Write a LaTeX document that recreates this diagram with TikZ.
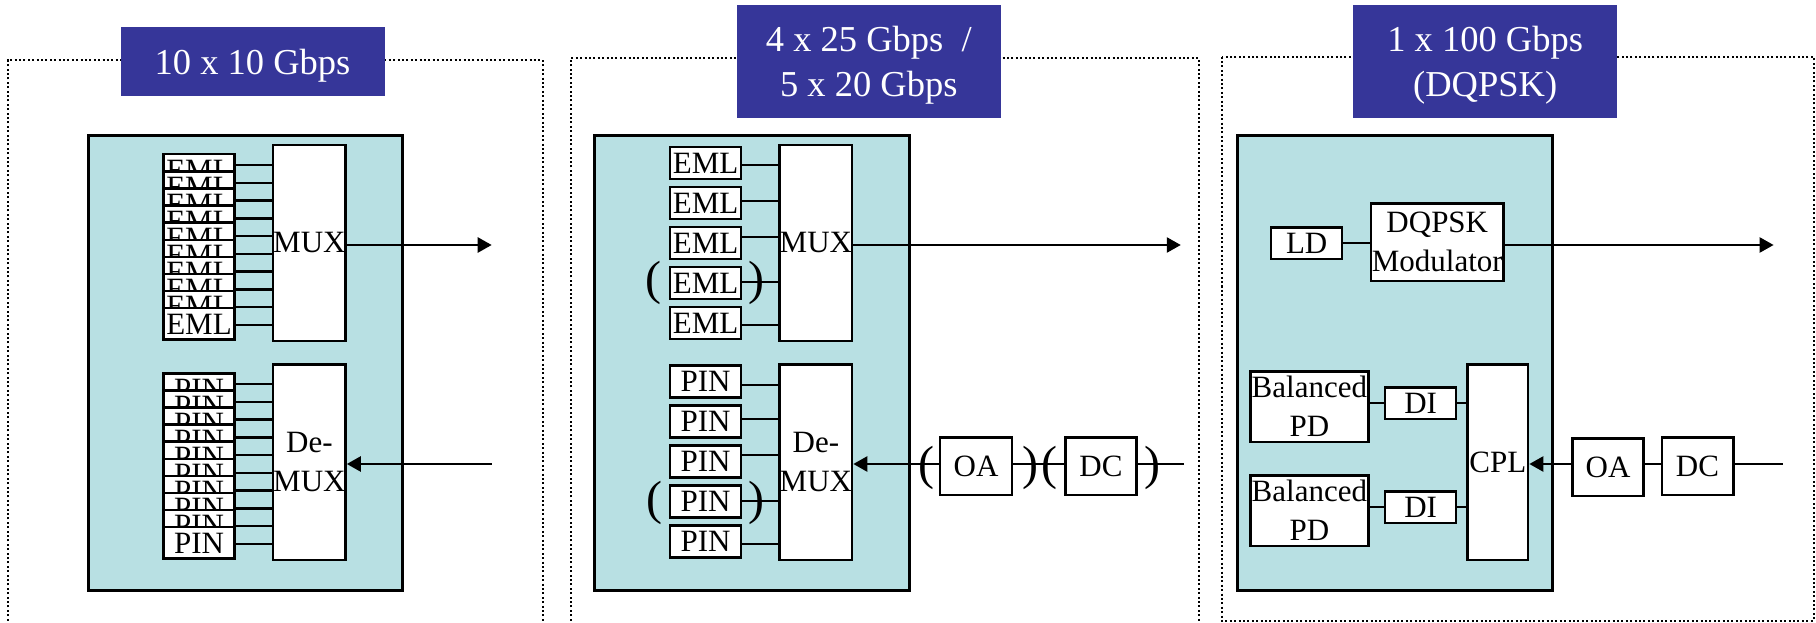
\documentclass[tikz,border=0pt]{standalone}
\usepackage{fontspec}
\setmainfont{Liberation Serif}
\usetikzlibrary{arrows.meta}
\definecolor{cardfill}{RGB}{184,224,227}
\definecolor{titleblue}{RGB}{54,54,153}
\begin{document}
\begin{tikzpicture}[x=1pt,y=-1pt,
  frame/.style={line width=2pt, dash pattern=on 2pt off 2.4pt},
  titlebox/.style={fill=titleblue, text=white, font=\fontsize{36.5}{45}\selectfont, align=center, inner sep=0pt, minimum width=264pt, text depth=0pt},
  card/.style={fill=cardfill, draw=black, line width=3pt, inner sep=0pt},
  blk/.style={draw=black, fill=white, line width=2.5pt, inner sep=0pt, font=\fontsize{31}{39}\selectfont, align=center},
  small/.style={blk, minimum width=71pt, minimum height=31.5pt},
  tall/.style={blk, minimum width=71pt, minimum height=195.5pt},
  wire/.style={line width=2.5pt},
  arr/.style={line width=2.5pt, -{Triangle[length=14pt,width=15pt]}},
  paren/.style={inner sep=0pt, font=\fontsize{48}{48}\selectfont},
]
\useasboundingbox (0,0) rectangle (1816,623);

% ---------- frames ----------
\draw[frame] (7.7,625) -- (7.7,60) -- (542.6,60) -- (542.6,625);
\draw[frame] (570.5,625) -- (570.5,58.3) -- (1199,58.3) -- (1199,625);
\draw[frame] (1221.6,56.7) rectangle (1813.6,620.5);

% ---------- titles ----------
\node[titlebox, minimum height=69pt] (t1) at (252.5,61.5) {10 x 10 Gbps};
\node[titlebox, minimum height=113pt] (t2) at (868.8,61.5) {4 x 25 Gbps~ /\\5 x 20 Gbps};
\node[titlebox, minimum height=113pt] (t3) at (1485.2,61.5) {1 x 100 Gbps\\(DQPSK)};

% ---------- cards ----------
\node[card, minimum width=314.6pt, minimum height=455pt] (card1) at (245.3,363) {};
\node[card, minimum width=315pt, minimum height=455pt] (card2) at (751.7,363) {};
\node[card, minimum width=314.5pt, minimum height=455pt] (card3) at (1394.9,363) {};

% ---------- panel 1 ----------
\foreach \i in {0,...,9} {
  \node[small] (ea\i) at (199,{170+17.1*\i}) {EML};
}
\node[tall] (mux1) at (309.4,243) {MUX};
\foreach \i in {0,...,9} {
  \draw[wire] (ea\i.east |- {0,165+17.78*\i}) -- (mux1.west |- {0,165+17.78*\i});
}
\foreach \i in {0,...,9} {
  \node[small] (pa\i) at (199,{389+17.1*\i}) {PIN};
}
\node[tall] (demux1) at (309.4,462) {De-\\MUX};
\foreach \i in {0,...,9} {
  \draw[wire] (pa\i.east |- {0,384+17.78*\i}) -- (demux1.west |- {0,384+17.78*\i});
}
\coordinate (out1) at (491.7,245);
\coordinate (in1) at (491.7,464);
\draw[arr] (mux1.east |- out1) -- (out1);
\draw[arr] (in1) -- (demux1.east |- in1);

% ---------- panel 2 ----------
\foreach \i in {0,...,4} {
  \node[small, minimum height=32pt] (eb\i) at (705.6,{163+40*\i}) {EML};
}
\node[tall, minimum width=71pt] (mux2) at (815.9,243) {MUX};
\foreach \i/\y in {0/165,1/201,2/237,3/282,4/325} {
  \draw[wire] (eb\i.east |- {0,\y}) -- (mux2.west |- {0,\y});
}
\foreach \i in {0,...,4} {
  \node[small, minimum height=32pt] (pb\i) at (705.6,{381.5+40*\i}) {PIN};
}
\node[tall, minimum width=71pt] (demux2) at (815.9,462) {De-\\MUX};
\foreach \i/\y in {0/385,1/419,2/455,3/501,4/544} {
  \draw[wire] (pb\i.east |- {0,\y}) -- (demux2.west |- {0,\y});
}
\node[paren] (pl1) at (653.6,283) {(};
\node[paren] (pr1) at (756.8,283) {)};
\node[paren] (pl2) at (654.7,502.5) {(};
\node[paren] (pr2) at (756.8,502.5) {)};

\coordinate (out2) at (1180.8,245);
\coordinate (in2) at (1184.2,464);
\draw[arr] (mux2.east |- out2) -- (out2);
\node[small, minimum width=72pt, minimum height=57.5pt] (oa2) at (976,466) {OA};
\node[small, minimum width=71.2pt, minimum height=57.5pt] (dc2) at (1101,466) {DC};
\draw[wire] (in2) -- (dc2.east |- in2);
\draw[wire] (dc2.west |- in2) -- (oa2.east |- in2);
\draw[arr] (oa2.west |- in2) -- (demux2.east |- in2);
\node[paren] (pl3) at (926.8,467.5) {(};
\node[paren] (pr3) at (1030.3,467.5) {)};
\node[paren] (pl4) at (1049.3,467.5) {(};
\node[paren] (pr4) at (1152.4,467.5) {)};

% ---------- panel 3 ----------
\node[small] (ld) at (1306.7,243) {LD};
\node[blk, minimum width=132.7pt, minimum height=77.5pt] (mod) at (1437.3,242) {DQPSK\\Modulator};
\draw[wire] (ld.east) -- (ld.east -| mod.west);
\coordinate (out3) at (1773.6,245);
\draw[arr] (mod.east |- out3) -- (out3);

\node[blk, minimum width=118pt, minimum height=70.5pt] (pd1) at (1309.4,406.5) {Balanced\\PD};
\node[blk, minimum width=118pt, minimum height=70.5pt] (pd2) at (1309.4,510.5) {Balanced\\PD};
\node[small] (di1) at (1420.7,403) {DI};
\node[small] (di2) at (1420.7,507) {DI};
\node[tall, minimum width=60.4pt] (cpl) at (1497.9,462) {CPL};
\draw[wire] (di1.west -| pd1.east) -- (di1.west);
\draw[wire] (di1.east) -- (di1.east -| cpl.west);
\draw[wire] (di2.west -| pd2.east) -- (di2.west);
\draw[wire] (di2.east) -- (di2.east -| cpl.west);

\node[small, minimum height=57.5pt] (oa3) at (1608,467) {OA};
\node[small, minimum width=71.5pt, minimum height=57.5pt] (dc3) at (1697.5,466) {DC};
\coordinate (in3) at (1782.7,464);
\draw[wire] (in3) -- (dc3.east |- in3);
\draw[wire] (dc3.west |- in3) -- (oa3.east |- in3);
\draw[arr] (oa3.west |- in3) -- (cpl.east |- in3);
\end{tikzpicture}
\end{document}
